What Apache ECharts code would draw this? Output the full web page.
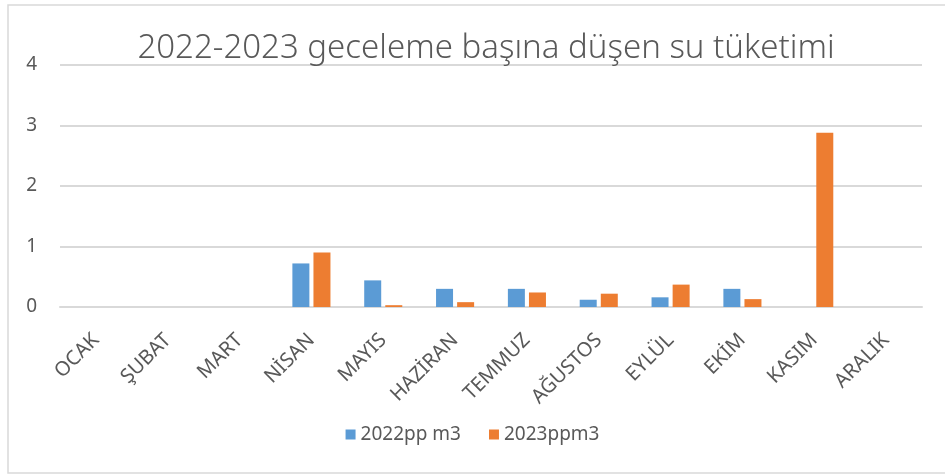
<!DOCTYPE html>
<html>
<head>
<meta charset="utf-8">
<script src="https://cdn.jsdelivr.net/npm/echarts@6/dist/echarts.min.js"></script>
<style>
  html, body { margin: 0; padding: 0; background: #fff; }
  #chart { width: 945px; height: 476px; }
</style>
</head>
<body>
<div id="chart"></div>
<script>
var months = ["OCAK", "ŞUBAT", "MART", "NİSAN", "MAYIS", "HAZİRAN", "TEMMUZ", "AĞUSTOS", "EYLÜL", "EKİM", "KASIM", "ARALIK"];
var values2022 = [0, 0, 0, 0.72, 0.44, 0.30, 0.30, 0.12, 0.16, 0.30, 0, 0];
var values2023 = [0, 0, 0, 0.90, 0.03, 0.08, 0.24, 0.22, 0.37, 0.13, 2.88, 0];
var seriesNames = ["2022pp m3", "2023ppm3"];

var textColor = "#595959";
var gridColor = "#D9D9D9";
var font = "Noto Sans";

var myChart = echarts.init(document.getElementById("chart"));
var option = {
  animation: false,
  title: {
    text: "2022-2023 geceleme başına düşen su tüketimi",
    left: 481,
    textAlign: "center",
    top: 27,
    textStyle: {
      color: textColor,
      fontFamily: font,
      fontWeight: 300,
      fontSize: 33,
    },
  },
  legend: {
    bottom: 27,
    left: "center",
    itemWidth: 10,
    itemHeight: 10,
    itemGap: 28,
    icon: "rect",
    textStyle: { color: textColor, fontFamily: font, fontSize: 19 },
    data: seriesNames,
  },
  graphic: [
    {
      type: "rect",
      shape: { x: 8, y: 5, width: 960, height: 468 },
      style: { fill: "none", stroke: gridColor, lineWidth: 1.5 },
      silent: true,
    },
  ],
  grid: { left: 60, right: 23, top: 65, bottom: 169 },
  xAxis: {
    type: "category",
    data: months,
    axisLine: { lineStyle: { color: gridColor, width: 2 } },
    axisTick: { show: false },
    axisLabel: {
      color: textColor,
      fontFamily: font,
      fontSize: 20,
      rotate: 45,
      margin: 30,
      interval: 0,
    },
  },
  yAxis: {
    type: "value",
    min: 0,
    max: 4,
    interval: 1,
    axisLine: { show: false },
    axisTick: { show: false },
    axisLabel: { color: textColor, fontFamily: font, fontSize: 19, margin: 23 },
    splitLine: { lineStyle: { color: gridColor, width: 2 } },
  },
  series: [
    {
      name: seriesNames[0],
      type: "bar",
      data: values2022,
      barWidth: 17,
      barGap: "24%",
      itemStyle: { color: "#5B9BD5" },
    },
    {
      name: seriesNames[1],
      type: "bar",
      data: values2023,
      barWidth: 17,
      itemStyle: { color: "#ED7D31" },
    },
  ],
};
myChart.setOption(option);
</script>
</body>
</html>
